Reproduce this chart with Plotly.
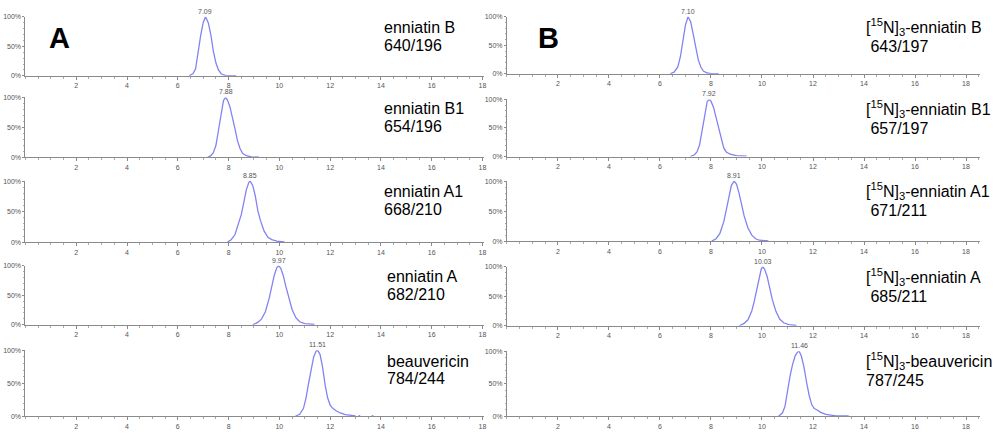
import plotly.graph_objects as go

# ---------------- data ----------------
x_tick_vals = [2, 4, 6, 8, 10, 12, 14, 16, 18]
x_tick_text = ["2", "4", "6", "8", "10", "12", "14", "16", "18"]
y_tick_vals = [0, 50, 100]
y_tick_text = ["0%", "50%", "100%"]

# Panel A (native)
a1_t = [6.45, 6.6, 6.7, 6.8, 6.9, 7.0, 7.09, 7.2, 7.3, 7.4, 7.5, 7.6, 7.7, 7.8, 7.9, 8.3]
a1_y = [0, 4, 12, 42, 68, 90, 100, 90, 70, 42, 22, 10, 4, 1.5, 0.5, 0.5]
a2_t = [7.17, 7.3, 7.4, 7.5, 7.6, 7.7, 7.8, 7.88, 7.95, 8.05, 8.15, 8.25, 8.35, 8.45, 8.55, 8.7, 8.9, 9.2]
a2_y = [0, 3, 8, 20, 45, 74, 95, 100, 96, 85, 68, 48, 28, 15, 7, 3, 1, 0.5]
a3_t = [7.96, 8.1, 8.25, 8.4, 8.5, 8.6, 8.7, 8.8, 8.85, 8.95, 9.05, 9.15, 9.25, 9.4, 9.55, 9.7, 9.9, 10.2]
a3_y = [0, 4, 12, 30, 45, 65, 86, 98, 100, 93, 76, 52, 36, 18, 8, 4, 1.5, 0.5]
a4_t = [8.95, 9.15, 9.3, 9.45, 9.6, 9.7, 9.8, 9.9, 9.97, 10.05, 10.15, 10.25, 10.35, 10.5, 10.65, 10.8, 11.0, 11.38]
a4_y = [0, 4, 10, 22, 45, 64, 84, 97, 100, 96, 84, 66, 48, 26, 12, 5, 2, 0.5]
a5_t = [10.63, 10.8, 10.95, 11.05, 11.15, 11.25, 11.35, 11.45, 11.51, 11.6, 11.7, 11.8, 11.9, 12.0, 12.1, 12.25, 12.4, 12.6, 12.85, 13.0]
a5_y = [0, 3, 12, 28, 50, 72, 90, 99, 100, 94, 75, 48, 28, 17, 12, 8, 5, 2.5, 1, 0.5]
a5_dots_t = [13.15, 13.67]
a5_dots_y = [0.5, 0.5]

# Panel B ([15N]3-labelled)
b1_t = [6.4, 6.55, 6.7, 6.8, 6.9, 7.0, 7.1, 7.2, 7.3, 7.4, 7.5, 7.6, 7.7, 7.85, 8.0, 8.3]
b1_y = [0, 3, 12, 30, 58, 86, 100, 92, 70, 45, 25, 12, 5, 1.5, 0.5, 0.5]
b2_t = [7.19, 7.35, 7.45, 7.55, 7.65, 7.75, 7.85, 7.92, 8.0, 8.1, 8.2, 8.3, 8.4, 8.5, 8.6, 8.75, 9.0, 9.4]
b2_y = [0, 3, 8, 20, 45, 75, 96, 100, 97, 86, 68, 46, 28, 15, 8, 4, 1.5, 0.5]
b3_t = [8.03, 8.2, 8.35, 8.5, 8.6, 8.7, 8.8, 8.91, 9.0, 9.1, 9.2, 9.3, 9.45, 9.6, 9.75, 9.9, 10.25]
b3_y = [0, 4, 13, 32, 52, 74, 93, 100, 95, 80, 60, 42, 22, 10, 4, 1.5, 0.5]
b4_t = [9.11, 9.3, 9.45, 9.6, 9.7, 9.8, 9.9, 9.97, 10.03, 10.1, 10.2, 10.3, 10.4, 10.55, 10.7, 10.85, 11.05, 11.35]
b4_y = [0, 4, 10, 25, 42, 63, 84, 96, 100, 96, 84, 64, 45, 24, 11, 5, 2, 0.5]
b5_t = [10.65, 10.8, 10.9, 11.0, 11.1, 11.2, 11.3, 11.4, 11.46, 11.55, 11.65, 11.75, 11.85, 11.95, 12.05, 12.15, 12.3, 12.5, 12.7, 12.9, 13.4]
b5_y = [0, 5, 15, 40, 62, 80, 93, 99, 100, 92, 75, 52, 32, 18, 12, 10, 6, 3, 1.5, 0.5, 0.5]

a_apex = [7.09, 7.88, 8.85, 9.97, 11.51]
a_apex_text = ["7.09", "7.88", "8.85", "9.97", "11.51"]
b_apex = [7.10, 7.92, 8.91, 10.03, 11.46]
b_apex_text = ["7.10", "7.92", "8.91", "10.03", "11.46"]

a_names = ["enniatin B", "enniatin B1", "enniatin A1", "enniatin A", "beauvericin"]
a_mrm = ["640/196", "654/196", "668/210", "682/210", "784/244"]
b_names = ["[<sup>15</sup>N]<sub>3</sub>-enniatin B", "[<sup>15</sup>N]<sub>3</sub>-enniatin B1",
           "[<sup>15</sup>N]<sub>3</sub>-enniatin A1", "[<sup>15</sup>N]<sub>3</sub>-enniatin A",
           "[<sup>15</sup>N]<sub>3</sub>-beauvericin"]
b_mrm = ["\u00a0643/197", "\u00a0657/197", "\u00a0671/211", "\u00a0685/211", "787/245"]

a_series = [(a1_t, a1_y), (a2_t, a2_y), (a3_t, a3_y), (a4_t, a4_y), (a5_t, a5_y)]
b_series = [(b1_t, b1_y), (b2_t, b2_y), (b3_t, b3_y), (b4_t, b4_y), (b5_t, b5_y)]

# ---------------- layout geometry (pixels) ----------------
W, H = 997, 436
a_rows = [(13, 73), (95, 156), (180, 242), (266, 326), (352, 419)]
b_rows = [(13, 71), (97, 155), (180, 241), (267, 327), (353, 419)]
a_x = (25.5, 485, 18.06)
b_x = (508, 982, 18.55)
a_name_x = [383, 383, 383, 386, 386]
b_name_x = [866, 866, 866, 866, 866]

FONT = "Arial, 'Liberation Sans', sans-serif"
LINE_COLOR = "#8282f5"
AXIS_COLOR = "#8a8a8a"

fig = go.Figure()
layout = dict(width=W, height=H, margin=dict(l=0, r=0, t=0, b=0),
              paper_bgcolor="white", plot_bgcolor="white", showlegend=False)
annotations = []


def add_panel(idx, series, apex, apex_text, rows_px, xgeom, row):
    n = idx
    xa = "xaxis" if n == 1 else f"xaxis{n}"
    ya = "yaxis" if n == 1 else f"yaxis{n}"
    xr = "x" if n == 1 else f"x{n}"
    yr = "y" if n == 1 else f"y{n}"
    top, bot = rows_px[row]
    x0, x1, xmax = xgeom
    t, y = series[row]
    fig.add_trace(go.Scatter(x=t, y=y, mode="lines", xaxis=xr, yaxis=yr,
                             line=dict(color=LINE_COLOR, width=1.3), hoverinfo="skip"))
    # small dark-blue marker at origin
    fig.add_trace(go.Scatter(x=[-0.06], y=[5], mode="markers", xaxis=xr, yaxis=yr,
                             marker=dict(symbol="triangle-right", size=6, color="#1c1ca8"),
                             cliponaxis=False, hoverinfo="skip"))
    layout[xa] = dict(domain=[x0 / W, x1 / W], range=[0, xmax], anchor=yr,
                      showline=True, linecolor=AXIS_COLOR, linewidth=1,
                      showgrid=False, zeroline=False,
                      tickmode="array", tickvals=x_tick_vals, ticktext=x_tick_text,
                      ticks="outside", ticklen=3, tickcolor=AXIS_COLOR,
                      minor=dict(ticks="outside", ticklen=2, dtick=0.5, tickcolor="#aaaaaa"),
                      tickfont=dict(family=FONT, size=7, color="#555555"))
    layout[ya] = dict(domain=[1 - bot / H, 1 - top / H], range=[0, 100], anchor=xr,
                      showline=True, linecolor=AXIS_COLOR, linewidth=1,
                      showgrid=False, zeroline=False,
                      tickmode="array", tickvals=y_tick_vals, ticktext=y_tick_text,
                      ticks="outside", ticklen=2, tickcolor=AXIS_COLOR,
                      minor=dict(ticks="outside", ticklen=1, dtick=10, tickcolor="#aaaaaa"),
                      tickfont=dict(family=FONT, size=7, color="#555555"))
    annotations.append(dict(x=apex[row], y=100, xref=xr, yref=yr, text=apex_text[row],
                            showarrow=False, yanchor="bottom", yshift=0,
                            font=dict(family=FONT, size=7, color="#555555")))


for r in range(5):
    add_panel(r + 1, a_series, a_apex, a_apex_text, a_rows, a_x, r)
    add_panel(r + 6, b_series, b_apex, b_apex_text, b_rows, b_x, r)

# beauvericin tail dots
fig.add_trace(go.Scatter(x=a5_dots_t, y=a5_dots_y, mode="markers", xaxis="x5", yaxis="y5",
                         marker=dict(size=2, color=LINE_COLOR), hoverinfo="skip"))

# compound labels
for r in range(5):
    top, bot = a_rows[r]
    annotations.append(dict(x=a_name_x[r] / W, y=1 - (top + 11) / H, xref="paper", yref="paper",
                            text=a_names[r], showarrow=False, xanchor="left", yanchor="middle",
                            font=dict(family=FONT, size=16, color="black")))
    annotations.append(dict(x=a_name_x[r] / W, y=1 - (top + 29) / H, xref="paper", yref="paper",
                            text=a_mrm[r], showarrow=False, xanchor="left", yanchor="middle",
                            font=dict(family=FONT, size=16, color="black")))
    top, bot = b_rows[r]
    annotations.append(dict(x=b_name_x[r] / W, y=1 - (top + 10) / H, xref="paper", yref="paper",
                            text=b_names[r], showarrow=False, xanchor="left", yanchor="middle",
                            font=dict(family=FONT, size=16, color="black")))
    annotations.append(dict(x=b_name_x[r] / W, y=1 - (top + 30) / H, xref="paper", yref="paper",
                            text=b_mrm[r], showarrow=False, xanchor="left", yanchor="middle",
                            font=dict(family=FONT, size=16, color="black")))

# panel letters
annotations.append(dict(x=47 / W, y=1 - 35 / H, xref="paper", yref="paper", text="<b>A</b>",
                        showarrow=False, xanchor="left", yanchor="middle",
                        font=dict(family=FONT, size=29, color="black")))
annotations.append(dict(x=537 / W, y=1 - 35 / H, xref="paper", yref="paper", text="<b>B</b>",
                        showarrow=False, xanchor="left", yanchor="middle",
                        font=dict(family=FONT, size=29, color="black")))

layout["annotations"] = annotations
fig.update_layout(**layout)
fig.write_html("out.html", config={"displayModeBar": False},
               post_script="document.body.style.margin='0';document.body.style.padding='0';"
                           "document.body.style.overflow='hidden';")
